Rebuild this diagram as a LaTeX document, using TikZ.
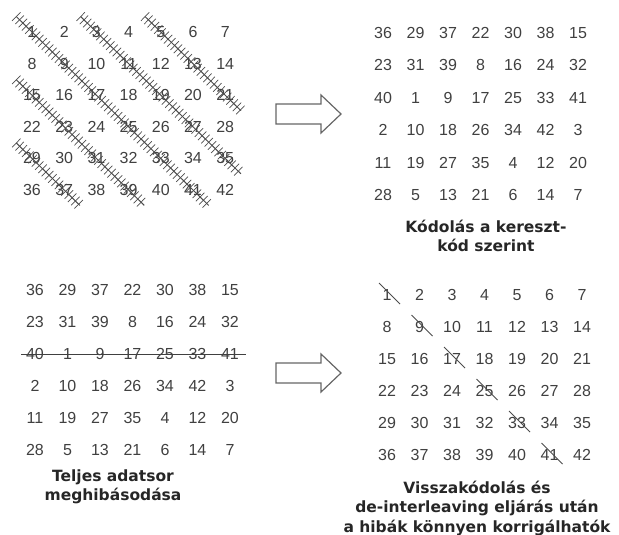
\documentclass[tikz,border=0pt]{standalone}
\usepackage{fontspec}
\setmainfont{Liberation Sans}
\newfontfamily\capfont{DejaVu Sans}
\usetikzlibrary{calc,decorations.pathreplacing}

\begin{document}
\begin{tikzpicture}[
        x=1pt, y=-1pt,
        num/.style={inner sep=1pt, text=black!75,
                    font=\fontsize{16}{16}\selectfont},
        captxt/.style={align=center, text=black!85,
                    font=\capfont\bfseries\fontsize{15.5}{19.5}\selectfont},
        hatch/.style={draw=black!70, line width=1pt,
                      postaction={decorate, draw=black!70, line width=0.7pt,
                        decoration={ticks, segment length=4.6pt, amplitude=6pt}}},
        slash/.style={draw=black!70, line width=1pt},
        strike/.style={draw=black!75, line width=1pt},
        blockarr/.style={draw=black!60, line width=1.2pt, line join=miter}
      ]
        \useasboundingbox (0,0) rectangle (619,535);

        % original order, crossed by the code lines
        \foreach \r in {0,...,5}
          \foreach \c in {0,...,6} {
            \pgfmathtruncatemacro\n{7*\r+\c+1}
            \node[num] (in\n) at ({32+32.2*\c},{32+31.6*\r}) {\n};
          }
        \foreach \s/\e in {1/41, 3/35, 5/21, 15/39, 29/37}
          \draw[hatch] ($(in\s)!-22pt!(in\e)$) -- ($(in\e)!-22pt!(in\s)$);

        % after interleaving
        \foreach \row [count=\r from 0] in {{36,29,37,22,30,38,15},
            {23,31,39,8,16,24,32}, {40,1,9,17,25,33,41},
            {2,10,18,26,34,42,3}, {11,19,27,35,4,12,20},
            {28,5,13,21,6,14,7}} {
          \foreach \v [count=\c from 0] in \row {
            \node[num] (enc\v) at ({383+32.5*\c},{33+32.4*\r}) {\v};
            \node[num] (err\v) at ({35+32.5*\c},{290+32*\r}) {\v};
          }
        }
        \draw[strike] ([xshift=-14pt]err40.center) -- ([xshift=16pt]err41.center);

        % decoded
        \foreach \r in {0,...,5}
          \foreach \c in {0,...,6} {
            \pgfmathtruncatemacro\n{7*\r+\c+1}
            \node[num] (dec\n) at ({387+32.5*\c},{295+32*\r}) {\n};
          }
        \foreach \n in {1,9,17,25,33,41}
          \draw[slash] ([shift={(-8,-12)}]dec\n.center)
                    -- ([shift={(13,9)}]dec\n.center);

        % block arrows
        \foreach \y in {114,373}
          \draw[blockarr] (276,\y-10) -- (321,\y-10) -- (321,\y-19)
            -- (341,\y) -- (321,\y+19) -- (321,\y+10) -- (276,\y+10) -- cycle;

        \node[captxt] (cap1) at (486,236) {Kódolás a kereszt-\\kód szerint};
        \node[captxt] (cap2) at (113,487) {Teljes adatsor\\meghibásodása};
        \node[captxt] (cap3) at (477,508)
          {Visszakódolás és\\de-interleaving eljárás után\\a hibák könnyen korrigálhatók};
      \end{tikzpicture}
\end{document}
